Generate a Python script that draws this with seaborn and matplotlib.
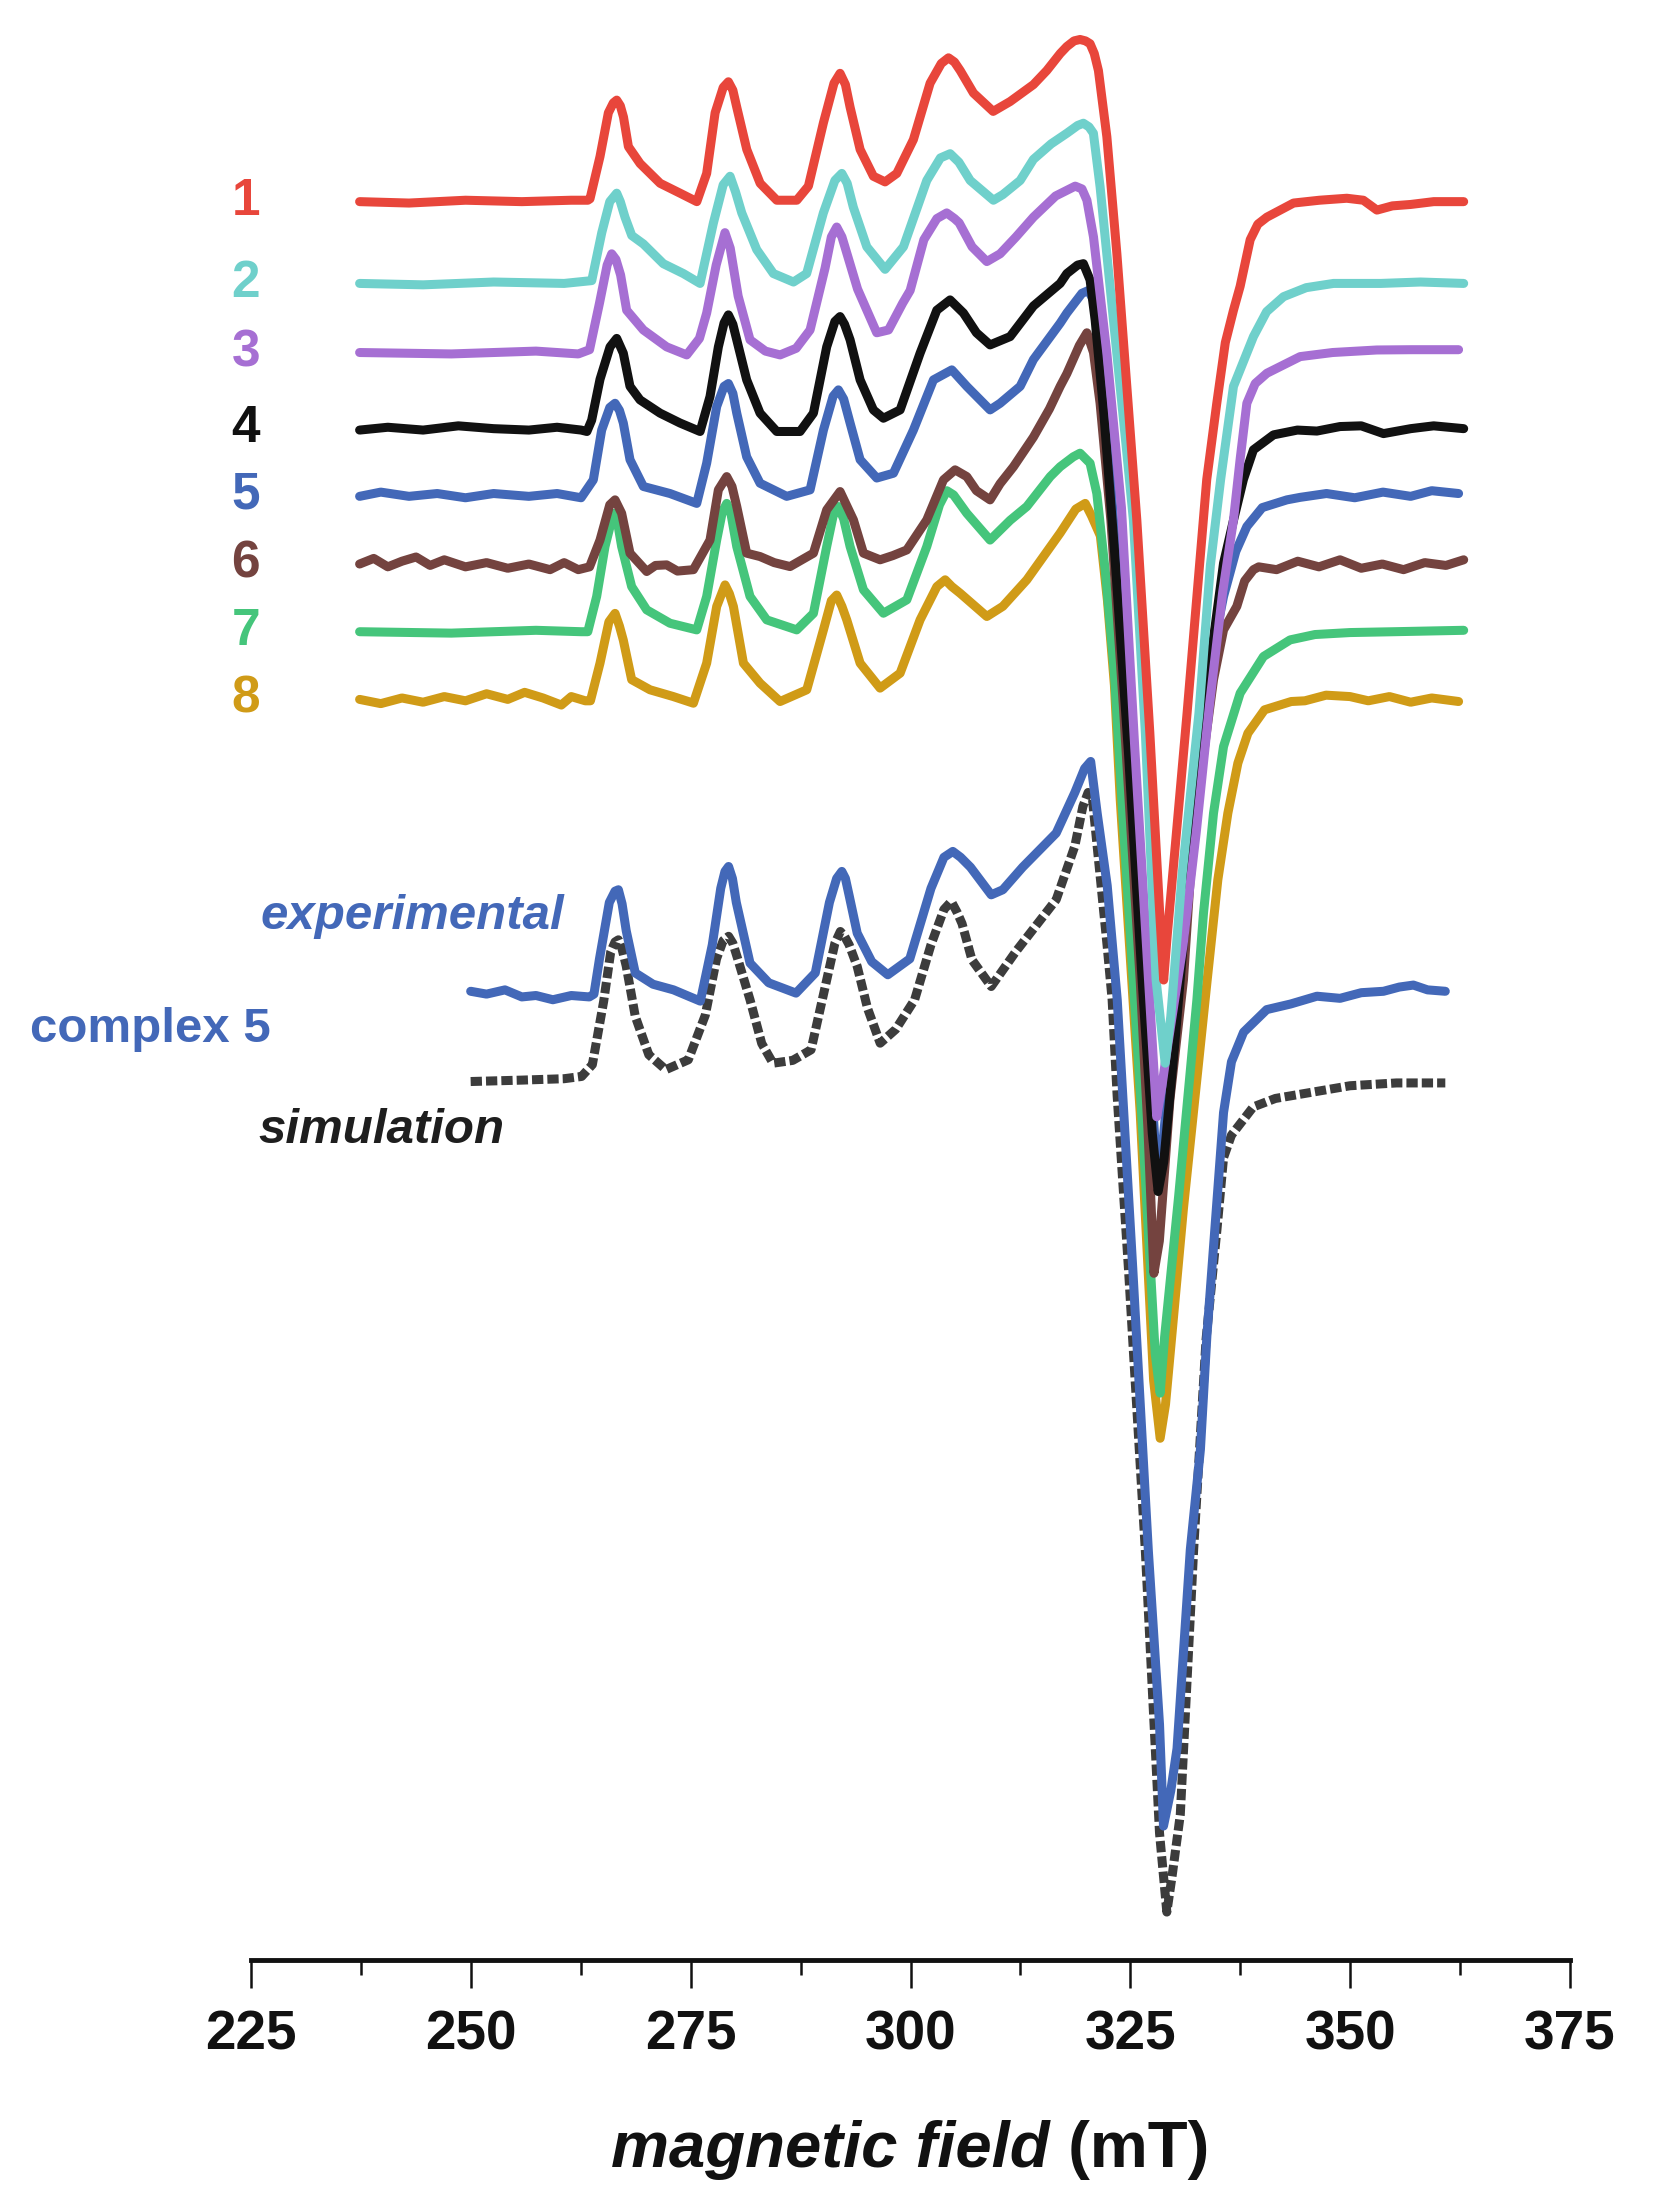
import numpy as np
import pandas as pd
import matplotlib
matplotlib.use("Agg")
import matplotlib.pyplot as plt
import seaborn as sns

sns.set_theme(style="white")
plt.rcParams['font.family'] = ['Liberation Sans', 'DejaVu Sans']

# ------------------------------------------------------------------ data
# (field in mT, signal in a.u. relative to each trace's own baseline)
labels = ["1", "2", "3", "4", "5", "6", "7", "8"]
colors = ["#e8463b", "#6fd0cb", "#a66fd3", "#111111", "#4368b8", "#74433f", "#45c57b", "#d09b17"]
offsets = [1245, 1187, 1138, 1084, 1037, 988, 940, 892]
exp_offset = 685
sim_offset = 621
exp_color = "#4368b8"
sim_color = "#3c3c3c"

spectrum_1 = [(237.35, 0), (242.97, -1), (249.39, 1), (255.80, 0), (261.42, 1), (263.30, 1), (263.55, 2),
              (264.69, 32), (265.64, 63), (266.20, 70), (266.59, 72), (267.00, 68), (267.36, 60), (267.92, 39),
              (269.25, 27), (271.53, 13), (273.79, 6), (275.70, 0), (276.82, 20), (277.78, 63), (278.70, 81),
              (279.29, 85), (279.80, 79), (280.24, 67), (281.38, 37), (282.90, 13), (284.79, 1), (287.07, 1),
              (288.39, 11), (290.10, 56), (291.30, 84), (291.99, 91), (292.60, 83), (293.13, 67), (294.27, 37),
              (295.78, 18), (297.11, 14), (298.44, 20), (300.33, 44), (302.23, 84), (303.50, 98), (304.32, 102),
              (305.00, 99), (305.65, 93), (307.16, 77), (309.40, 64), (311.33, 71), (313.98, 83), (315.50, 93),
              (317.02, 105), (317.78, 110), (318.60, 114), (319.28, 115), (319.90, 114), (320.42, 112),
              (320.90, 105), (321.37, 93), (322.33, 46), (323.47, -37), (324.60, -131), (325.74, -226),
              (327.22, -377), (328.30, -500), (328.79, -552), (329.20, -520), (330.11, -457), (331.45, -363),
              (332.57, -280), (333.69, -197), (334.83, -143), (335.80, -100), (336.73, -77), (337.49, -60),
              (338.63, -27), (339.50, -16), (340.53, -11), (343.56, -1), (346.50, 1), (349.62, 2.4), (351.50, 1),
              (353.04, -6), (354.80, -3), (356.88, -2), (359.50, 0), (362.91, 0)]

spectrum_2 = [(237.35, 0), (244.57, -1), (252.59, 1), (260.61, 0), (263.75, 2), (264.89, 36), (265.80, 58),
              (266.59, 64), (267.00, 58), (267.53, 47), (268.30, 34), (269.62, 28), (271.89, 14), (274.17, 7),
              (276.07, 0), (277.59, 43), (278.70, 70), (279.48, 76), (280.10, 65), (280.81, 50), (282.51, 24),
              (284.41, 7), (286.69, 1), (288.19, 7), (290.09, 50), (291.40, 73), (292.19, 78), (292.80, 71),
              (293.50, 54), (295.03, 26), (297.11, 10), (299.20, 26), (301.85, 73), (303.40, 89), (304.51, 92),
              (305.50, 86), (306.79, 73), (309.43, 59), (310.50, 63), (312.47, 73), (313.98, 88), (316.00, 99),
              (317.78, 106.5), (319.00, 112), (319.66, 113.6), (320.30, 111), (320.80, 106.5), (321.56, 68.6),
              (323.08, -26), (324.60, -120), (325.35, -168), (326.71, -319), (327.93, -494), (328.96, -553),
              (329.60, -520), (330.89, -419), (332.80, -305), (334.10, -200), (335.27, -139), (336.73, -73),
              (339.00, -37.7), (340.50, -20), (342.42, -9.4), (345.00, -3), (348.11, 0), (353.50, 0),
              (358.00, 1), (362.91, 0)]

spectrum_3 = [(237.35, 0), (247.78, -1), (257.41, 1), (262.22, -1), (263.50, 2), (264.63, 35), (265.50, 62),
              (266.02, 70), (266.50, 66), (267.03, 55), (267.72, 30), (269.62, 16), (272.27, 4), (274.55, -1.7),
              (276.00, 10), (276.82, 28), (277.90, 62), (278.90, 85), (279.50, 74), (280.40, 40), (281.75, 9),
              (283.50, 1), (285.17, -1.7), (287.00, 3), (288.58, 16), (290.29, 60), (291.00, 82), (291.61, 89),
              (292.20, 82), (292.54, 75), (293.98, 45), (296.16, 14), (297.50, 16), (299.11, 35), (299.96, 44),
              (301.52, 80), (303.00, 95), (304.12, 99), (305.00, 95), (305.53, 92), (307.00, 75), (308.68, 64.5),
              (310.19, 70), (312.00, 82), (313.98, 96), (316.50, 111), (318.73, 118), (319.50, 116),
              (320.06, 108), (320.81, 82), (322.33, -0.5), (323.99, -110), (325.50, -280), (327.07, -445),
              (328.00, -542), (328.60, -520), (329.28, -490), (331.00, -420), (332.50, -340), (334.00, -250),
              (335.50, -170), (336.73, -118.7), (337.50, -75), (338.25, -36), (339.20, -22), (340.53, -14.7),
              (344.31, -2.9), (348.00, 0), (353.04, 1.8), (357.00, 2), (362.33, 2)]

spectrum_4 = [(237.35, -1), (240.56, 1), (244.57, -1), (248.58, 2), (252.59, 0), (256.60, -1), (259.81, 1),
              (262.54, -1), (263.20, -2), (263.74, 6), (264.69, 35), (265.83, 58), (266.59, 64), (267.34, 53.5),
              (268.10, 30), (269.24, 20.4), (271.52, 11), (273.79, 4), (276.07, -2), (277.20, 22.8),
              (278.15, 58), (278.80, 75), (279.29, 80.7), (279.80, 74), (280.24, 63), (281.37, 34.6),
              (282.89, 11), (284.79, -2), (287.44, -2), (288.96, 11), (290.47, 58), (291.40, 76), (291.99, 79.5),
              (292.50, 74), (293.13, 63), (294.27, 34.6), (295.78, 13.3), (296.92, 7.4), (298.82, 13.3),
              (301.09, 53.5), (302.99, 84), (304.50, 91.3), (306.02, 82), (307.50, 68), (309.05, 59.4),
              (311.33, 65.3), (313.98, 87), (317.02, 103), (317.78, 110), (319.00, 116), (319.66, 117),
              (320.42, 105.5), (321.00, 77), (322.00, 10), (323.19, -86), (324.79, -230), (326.39, -396),
              (327.50, -500), (328.16, -541), (328.80, -520), (330.00, -440), (331.50, -330), (332.49, -256),
              (334.09, -166), (335.60, -95.4), (336.73, -65), (337.86, -36), (339.00, -15), (341.28, -4.4),
              (344.00, -1), (346.22, -1.7), (348.85, 1.5), (351.26, 2), (353.79, -3.5), (356.88, 0),
              (359.50, 2), (362.91, 0)]

spectrum_5 = [(237.35, -1), (239.76, 2), (242.97, -1), (246.18, 1), (249.39, -2), (252.59, 1), (256.60, -1),
              (259.81, 1), (262.54, -2), (263.93, 10.7), (264.88, 46), (265.80, 62), (266.40, 65), (266.90, 60),
              (267.34, 51), (268.10, 25), (269.62, 6), (272.65, 1), (275.69, -6), (276.82, 22.5), (277.96, 62.7),
              (278.80, 77), (279.29, 79), (279.80, 72), (280.24, 58), (281.37, 27), (282.89, 8.3),
              (285.92, -1), (288.58, 3.6), (290.10, 46), (291.20, 70), (291.80, 74.5), (292.40, 68),
              (293.13, 51), (294.27, 25), (296.16, 12), (298.06, 15.4), (300.33, 46), (302.61, 81.6),
              (304.70, 88.7), (306.40, 77), (309.05, 60.3), (310.19, 65), (312.47, 77), (313.98, 96),
              (317.02, 121.8), (317.78, 129), (319.50, 143), (320.23, 145), (321.00, 136), (321.80, 100),
              (322.87, 1), (324.79, -169), (326.71, -349), (328.00, -479), (328.70, -460), (330.00, -370),
              (332.01, -209), (334.09, -119), (335.60, -72), (337.00, -40), (338.25, -22.4), (340.00, -9),
              (342.80, -3.5), (344.33, -1.7), (347.31, 1), (350.52, -2), (353.73, 2), (356.88, -1),
              (359.28, 3), (362.33, 1)]

spectrum_6 = [(237.35, 0), (238.96, 4), (240.56, -2), (242.17, 2), (243.77, 5), (245.37, -1), (246.98, 3),
              (249.39, -2), (251.79, 1), (254.20, -3), (256.60, 0), (259.01, -4), (260.61, 1), (262.22, -4),
              (263.50, -2), (264.69, 17), (265.80, 42), (266.40, 45.5), (267.15, 36), (268.10, 7.7),
              (270.00, -5.3), (271.00, -1), (272.27, -0.6), (273.50, -5), (275.31, -4), (277.20, 17),
              (278.15, 52.6), (279.10, 62), (279.70, 55), (280.24, 40.8), (281.37, 7.7), (282.89, 5.3),
              (284.50, 1), (286.30, -1.8), (288.96, 7.7), (290.47, 38.4), (291.99, 51.4), (293.51, 31.3),
              (294.65, 7.7), (296.54, 3), (298.00, 6), (299.58, 10), (301.85, 31.3), (303.75, 59.7),
              (305.07, 66.8), (306.40, 62), (307.50, 52), (309.05, 45.5), (310.19, 57), (311.71, 69),
              (313.98, 90), (315.80, 110), (317.02, 126), (317.78, 135), (319.20, 155), (320.06, 164),
              (320.81, 150), (321.56, 114), (322.79, 31), (324.20, -100), (326.12, -295), (327.00, -400),
              (327.68, -503), (328.30, -480), (329.50, -380), (331.04, -295), (331.80, -224), (332.94, -153),
              (334.46, -82), (335.60, -46.7), (337.11, -30), (338.00, -12), (339.00, -4), (339.60, -2),
              (341.63, -4), (344.04, 2), (346.45, -2), (348.85, 3), (351.26, -3), (353.66, 0), (356.07, -4),
              (358.48, 1), (360.89, -1), (362.91, 3)]

spectrum_7 = [(237.35, 0), (247.78, -1), (257.41, 1), (262.54, 0), (263.30, 0), (264.31, 25), (265.26, 60.4),
              (266.21, 84), (266.70, 77), (267.15, 60.4), (268.29, 32), (270.00, 15.5), (272.65, 6),
              (275.69, 1.3), (276.82, 25), (277.96, 65), (278.60, 85), (279.10, 91), (279.60, 83),
              (280.24, 60.4), (281.75, 25), (283.65, 8.4), (287.06, 1.3), (288.96, 13), (290.47, 60.4),
              (291.20, 82), (291.80, 88.8), (292.40, 80), (293.13, 60.4), (294.65, 29.7), (296.92, 13.1),
              (299.58, 22.6), (301.85, 60.4), (303.30, 90), (304.13, 100), (304.90, 97), (306.40, 84),
              (309.05, 65), (311.33, 79), (313.23, 88.8), (315.89, 110), (317.02, 117), (318.50, 124),
              (319.28, 126.6), (320.42, 119.5), (321.19, 98), (322.20, 40), (323.19, -30), (324.16, -132),
              (326.39, -352), (327.83, -512), (328.39, -540), (328.90, -500), (330.50, -400), (332.57, -261),
              (333.32, -199.6), (334.46, -128.7), (335.60, -81.4), (337.49, -43.6), (340.14, -17.6),
              (343.17, -5.8), (346.00, -2), (349.98, -0.6), (355.00, 0), (362.91, 1)]

spectrum_8 = [(237.35, 0), (239.76, -3), (242.17, 1), (244.57, -2), (246.98, 2), (249.39, -1), (251.79, 4),
              (254.20, 0), (256.12, 5), (258.21, 1), (260.29, -4), (261.42, 2), (263.02, -1), (263.60, -1),
              (264.69, 25.7), (265.70, 55), (266.40, 61), (266.90, 52), (267.34, 42), (268.29, 14),
              (270.38, 6.8), (273.03, 2), (275.31, -2.7), (276.82, 25.7), (277.96, 65.9), (278.91, 81.2),
              (279.40, 75), (279.86, 65.9), (281.00, 25.7), (282.89, 11.5), (285.17, -1.5), (288.20, 6.8),
              (290.10, 49.3), (291.00, 70), (291.61, 74), (292.20, 66), (292.75, 56.4), (294.27, 25.7),
              (296.54, 8), (298.82, 18.6), (301.09, 56.4), (303.00, 80), (303.94, 84.8), (304.70, 80),
              (305.64, 75.3), (308.68, 58.8), (310.50, 66), (313.23, 84.8), (317.02, 118), (318.80, 135),
              (319.87, 139), (320.60, 130), (321.59, 116), (322.40, 70), (323.19, 10), (323.85, -71),
              (326.12, -293), (327.65, -483), (328.39, -524), (329.00, -500), (331.04, -361), (333.74, -199),
              (334.95, -128), (336.09, -80.7), (337.23, -45.2), (338.37, -24), (340.26, -7.4), (343.30, -1.5),
              (344.85, -1), (347.26, 3), (349.98, 2), (352.06, -1), (354.47, 2), (356.88, -2), (359.28, 1),
              (362.33, -1.5)]

spectrum_exp = [(249.98, 0), (251.79, -2), (253.88, 1), (255.80, -4), (257.41, -3), (259.33, -6),
                (261.42, -3), (263.47, -4), (264.00, -2), (264.63, 23), (265.75, 63), (266.40, 71),
                (266.78, 72), (267.20, 62), (267.67, 43), (268.70, 13), (270.72, 5), (273.05, 1), (274.57, -3),
                (276.10, -7), (277.46, 33), (278.42, 73), (278.90, 85), (279.31, 88.5), (279.75, 80),
                (280.19, 63), (281.75, 20), (283.88, 6), (286.98, -1.3), (289.17, 13), (290.78, 63),
                (291.60, 80), (292.19, 85), (292.60, 80), (293.02, 68), (293.94, 41.2), (295.59, 21),
                (297.42, 11.7), (299.92, 23), (302.33, 73), (303.80, 95), (304.81, 99.2), (305.70, 95),
                (306.82, 88), (309.18, 68.4), (310.50, 72), (312.75, 88), (316.57, 112.2), (318.69, 141),
                (319.80, 158), (320.49, 163), (321.23, 126.3), (322.37, 75), (323.51, -6), (325.28, -197),
                (327.05, -397), (328.32, -520), (328.77, -592), (329.60, -567), (330.31, -537),
                (331.82, -396), (332.97, -325), (333.71, -244), (335.60, -86), (336.50, -50), (337.88, -29),
                (340.51, -13), (343.24, -9), (346.22, -3.5), (348.85, -5), (351.26, -1), (353.79, 0),
                (355.59, 3), (357.19, 4.4), (358.80, 1), (360.82, 0)]

spectrum_sim = [(249.98, 0), (255.80, 1), (260.61, 2), (262.60, 3.6), (263.82, 12), (265.11, 57),
                (265.91, 92), (266.40, 99), (266.78, 100.5), (267.20, 94), (267.67, 82), (268.70, 46.2),
                (270.24, 19), (272.17, 8.4), (274.73, 15.4), (276.66, 47), (277.94, 87), (278.70, 100),
                (279.31, 103), (279.80, 98), (280.35, 87), (281.75, 58), (283.08, 27), (284.36, 13),
                (286.61, 15), (288.69, 22.5), (290.29, 67), (291.40, 98), (292.02, 106.4), (292.50, 103),
                (293.02, 97), (293.94, 81.6), (295.11, 52), (296.55, 27.2), (298.32, 37), (300.47, 58),
                (302.33, 97), (303.80, 122), (304.64, 127.7), (305.30, 120), (305.86, 112), (306.99, 86.3),
                (309.18, 67.4), (311.96, 92), (316.57, 129), (318.69, 167), (319.60, 195), (320.20, 205),
                (320.70, 200), (321.23, 166.7), (322.37, 95.8), (322.93, 58), (323.50, -10), (324.79, -133),
                (326.71, -333), (328.32, -533), (329.15, -589), (329.76, -563), (330.68, -520),
                (332.20, -332), (333.61, -183), (334.85, -105), (335.60, -54), (336.50, -38), (338.98, -18),
                (341.50, -12), (344.33, -9), (349.98, -3), (355.27, -1), (360.82, -1)]

spectra = [spectrum_1, spectrum_2, spectrum_3, spectrum_4, spectrum_5, spectrum_6, spectrum_7, spectrum_8]


def to_frame(points, offset):
    arr = np.asarray(points, float)
    return pd.DataFrame({"field": arr[:, 0], "intensity": arr[:, 1] + offset})


df_exp = to_frame(spectrum_exp, exp_offset)
df_sim = to_frame(spectrum_sim, sim_offset)

# ------------------------------------------------------------------ figure
fig = plt.figure(figsize=(16.6, 22.12), dpi=100, facecolor="white")
ax = fig.add_axes([251 / 1660, 1 - 1960 / 2212, (1570 - 251) / 1660, 1960 / 2212])
ax.set_facecolor("white")

LW = 6.5
line_kw = dict(linewidth=LW, solid_capstyle="round", solid_joinstyle="round")

sns.lineplot(data=df_sim, x="field", y="intensity", ax=ax, color=sim_color, sort=False,
             estimator=None, linewidth=LW, linestyle=(0, (1.25, 0.45)), dash_capstyle="butt",
             dash_joinstyle="round")
sns.lineplot(data=df_exp, x="field", y="intensity", ax=ax, color=exp_color, sort=False,
             estimator=None, **line_kw)
for lab, col, pts, off in reversed(list(zip(labels, colors, spectra, offsets))):
    sns.lineplot(data=to_frame(pts, off), x="field", y="intensity", ax=ax, color=col, sort=False,
                 estimator=None, **line_kw)

# curve labels
for lab, col, off in zip(labels, colors, offsets):
    ax.text(224.4, off, lab, color=col, fontsize=37, fontweight="bold",
            ha="center", va="center", clip_on=False)
ax.text(243.3, 738, "experimental", color=exp_color, fontsize=35.5, fontweight="bold",
        fontstyle="italic", ha="center", va="center", clip_on=False)
ax.text(213.6, 658, "complex 5", color=exp_color, fontsize=35.5, fontweight="bold",
        ha="center", va="center", clip_on=False)
ax.text(239.8, 586, "simulation", color="#1e1e1e", fontsize=35.5, fontweight="bold",
        fontstyle="italic", ha="center", va="center", clip_on=False)

# axes
ax.set_xlim(225, 375)
ax.set_ylim(-2, 1388)
ax.set_xticks(np.arange(225, 376, 25))
ax.set_xticks(np.arange(237.5, 375, 25), minor=True)
ax.set_xticklabels([str(v) for v in range(225, 376, 25)], fontsize=39.5, fontweight="bold")
ax.set_yticks([])
ax.tick_params(axis="x", which="major", direction="out", length=20, width=1.8,
               pad=16, color="#111111", labelcolor="#111111", bottom=True)
ax.tick_params(axis="x", which="minor", direction="out", length=11, width=1.8,
               color="#111111", bottom=True)
sns.despine(ax=ax, left=True, top=True, right=True)
ax.spines["bottom"].set_linewidth(3.5)
ax.spines["bottom"].set_color("#111111")
ax.set_xlabel("")
ax.set_ylabel("")
ax.grid(False)

# x-axis title: italic part + upright part
t1 = fig.text(611 / 1660, 1 - 2167 / 2212, "magnetic field", fontsize=47, fontweight="bold",
              fontstyle="italic", ha="left", va="baseline", color="#111111")
ax.annotate(" (mT)", xy=(1, 0), xycoords=t1, xytext=(0, 0), textcoords="offset points",
            fontsize=47, fontweight="bold", ha="left", va="bottom", color="#111111",
            annotation_clip=False)

fig.savefig("out.png", dpi=100, facecolor="white")
